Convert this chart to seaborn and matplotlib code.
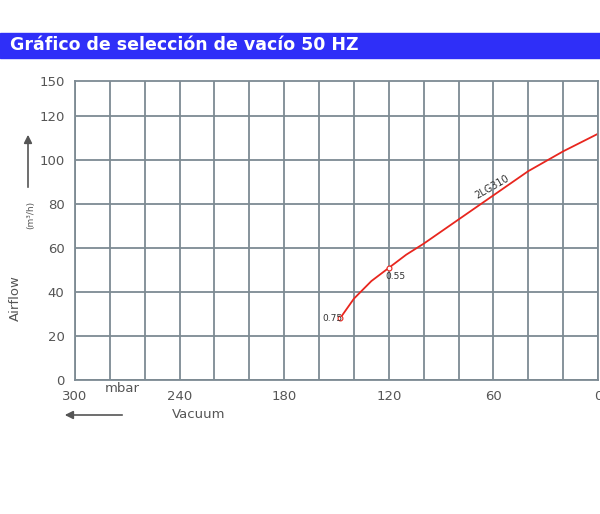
import matplotlib
matplotlib.use("Agg")
import matplotlib.pyplot as plt
import seaborn as sns
import numpy as np
from matplotlib.patches import Rectangle

vacuum = [148, 140, 130, 120, 110, 100, 80, 60, 40, 20, 0]
airflow = [28, 37, 45, 51, 57, 62, 73, 84, 95, 104, 112]
marks_x = [148, 120]
marks_y = [28, 51]
mark_labels = ["0.75", "0.55"]
xticks = [300, 240, 180, 120, 60, 0]
yticks = [0, 20, 40, 60, 80, 100, 120]
ytop = 136
ytop_label = "150"

sns.set_style("white")
plt.rcParams['font.family'] = ['DejaVu Sans']
fig = plt.figure(figsize=(6, 5.14), dpi=100)
ax = fig.add_axes([75/600, 1-380/514, 523/600, 299/514])

gc = "#7d8a93"
for v in range(0, 301, 20):
    ax.axvline(v, color=gc, lw=1.3, zorder=0)
for v in yticks:
    ax.axhline(v, color=gc, lw=1.3, zorder=0)

sns.lineplot(x=vacuum, y=airflow, ax=ax, color="#e8261e", lw=1.3, sort=False)
ax.plot(marks_x, marks_y, "o", mfc="white", mec="#e8261e", ms=3.5, mew=0.8)
ax.text(marks_x[0]-1.5, marks_y[0], mark_labels[0], fontsize=6.5, ha="right", va="center", color="#333")
ax.text(marks_x[1]+2, marks_y[1]-4, mark_labels[1], fontsize=6.5, ha="left", va="center", color="#333")
ax.text(61, 88, "2LG310", fontsize=7, rotation=30, ha="center", va="center", color="#333")

ax.set_xlim(300, 0)
ax.set_ylim(0, ytop)
ax.set_xticks(xticks)
ax.set_yticks(yticks + [ytop])
ax.set_yticklabels([str(v) for v in yticks] + [ytop_label])
ax.tick_params(labelsize=9.5, colors="#555", length=4, width=1.2, color=gc)
for s in ax.spines.values():
    s.set_color(gc); s.set_linewidth(1.3)

fig.text(105/600, 1-388/514, "mbar", fontsize=9.5, color="#555", va="center")
fig.text(172/600, 1-414/514, "Vacuum", fontsize=9.5, color="#555", va="center")
fig.add_artist(matplotlib.patches.FancyArrowPatch((125/600, 1-415/514), (62/600, 1-415/514),
               transform=fig.transFigure, arrowstyle="-|>", mutation_scale=12, color="#555", lw=1.2))
fig.text(15/600, 1-298/514, "Airflow", fontsize=9.5, color="#555", rotation=90, ha="center", va="center")
fig.text(31/600, 1-215/514, "(m³/h)", fontsize=6.5, color="#555", rotation=90, ha="center", va="center")
fig.add_artist(matplotlib.patches.FancyArrowPatch((28/600, 1-190/514), (28/600, 1-132/514),
               transform=fig.transFigure, arrowstyle="-|>", mutation_scale=12, color="#555", lw=1.2))

fig.add_artist(Rectangle((0, 1-58/514), 1, 25/514, transform=fig.transFigure, color="#2f2ff8"))
fig.text(10/600, 1-45.5/514, "Gráfico de selección de vacío 50 HZ", fontsize=12.5, fontweight="bold",
         color="white", va="center")

fig.savefig("out.png", dpi=100)
